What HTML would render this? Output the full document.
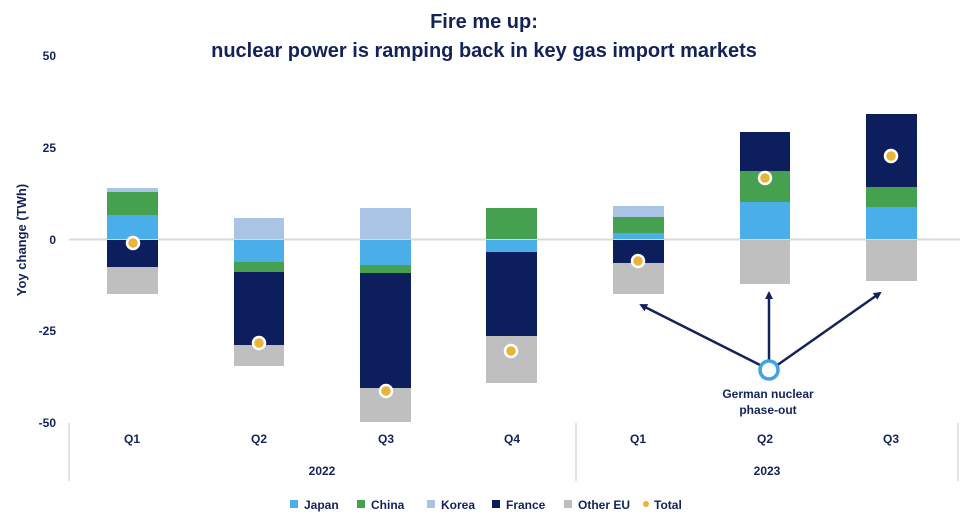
<!DOCTYPE html>
<html><head><meta charset="utf-8"><style>
html,body{margin:0;padding:0;background:#fff;}
svg{display:block;font-family:"Liberation Sans",sans-serif;}
</style></head><body>
<svg width="960" height="515" viewBox="0 0 960 515" xmlns="http://www.w3.org/2000/svg">
<defs>
<marker id="ah" markerWidth="8" markerHeight="8" refX="6" refY="4" orient="auto" markerUnits="userSpaceOnUse">
<path d="M0,0 L8,4 L0,8 Z" fill="#13235a"/></marker>
</defs>
<g fill="#13235a" font-weight="bold" text-anchor="middle">
<text x="484" y="28" font-size="20">Fire me up:</text>
<text x="484" y="57" font-size="20">nuclear power is ramping back in key gas import markets</text>
</g>
<g fill="#13235a" font-weight="bold" font-size="12" text-anchor="end">
<text x="56" y="60">50</text>
<text x="56" y="152">25</text>
<text x="56" y="244">0</text>
<text x="56" y="335">-25</text>
<text x="56" y="427">-50</text>
</g>
<text transform="translate(26,240) rotate(-90)" text-anchor="middle" fill="#13235a" font-weight="bold" font-size="13">Yoy change (TWh)</text>
<line x1="69" y1="239.5" x2="960" y2="239.5" stroke="#d9d9d9" stroke-width="2"/>
<rect x="107" y="188" width="51" height="4" fill="#a9c4e4"/>
<rect x="107" y="192" width="51" height="23" fill="#45a04f"/>
<rect x="107" y="215" width="51" height="24" fill="#4aaee8"/>
<rect x="107" y="240" width="51" height="27" fill="#0c1f5c"/>
<rect x="107" y="267" width="51" height="27" fill="#bfbfbf"/>
<rect x="234" y="218" width="50" height="21" fill="#a9c4e4"/>
<rect x="234" y="240" width="50" height="22" fill="#4aaee8"/>
<rect x="234" y="262" width="50" height="10" fill="#45a04f"/>
<rect x="234" y="272" width="50" height="73" fill="#0c1f5c"/>
<rect x="234" y="345" width="50" height="21" fill="#bfbfbf"/>
<rect x="360" y="208" width="51" height="31" fill="#a9c4e4"/>
<rect x="360" y="240" width="51" height="25" fill="#4aaee8"/>
<rect x="360" y="265" width="51" height="8" fill="#45a04f"/>
<rect x="360" y="273" width="51" height="115" fill="#0c1f5c"/>
<rect x="360" y="388" width="51" height="34" fill="#bfbfbf"/>
<rect x="486" y="208" width="51" height="31" fill="#45a04f"/>
<rect x="486" y="240" width="51" height="12" fill="#4aaee8"/>
<rect x="486" y="252" width="51" height="84" fill="#0c1f5c"/>
<rect x="486" y="336" width="51" height="47" fill="#bfbfbf"/>
<rect x="613" y="206" width="51" height="11" fill="#a9c4e4"/>
<rect x="613" y="217" width="51" height="16" fill="#45a04f"/>
<rect x="613" y="233" width="51" height="6" fill="#4aaee8"/>
<rect x="613" y="240" width="51" height="23" fill="#0c1f5c"/>
<rect x="613" y="263" width="51" height="31" fill="#bfbfbf"/>
<rect x="740" y="132" width="50" height="39" fill="#0c1f5c"/>
<rect x="740" y="171" width="50" height="31" fill="#45a04f"/>
<rect x="740" y="202" width="50" height="37" fill="#4aaee8"/>
<rect x="740" y="240" width="50" height="44" fill="#bfbfbf"/>
<rect x="866" y="114" width="51" height="73" fill="#0c1f5c"/>
<rect x="866" y="187" width="51" height="20" fill="#45a04f"/>
<rect x="866" y="207" width="51" height="32" fill="#4aaee8"/>
<rect x="866" y="240" width="51" height="41" fill="#bfbfbf"/>
<g fill="#e8b43a" stroke="#fff" stroke-width="2.5">
<circle cx="133" cy="243" r="6"/>
<circle cx="259" cy="343" r="6"/>
<circle cx="386" cy="391" r="6"/>
<circle cx="511" cy="351" r="6"/>
<circle cx="638" cy="261" r="6"/>
<circle cx="765" cy="178" r="6"/>
<circle cx="891" cy="156" r="6"/>
</g>
<g stroke="#13235a" stroke-width="2.5" marker-end="url(#ah)">
<line x1="762" y1="366" x2="641" y2="305"/>
<line x1="769" y1="360" x2="769" y2="293"/>
<line x1="776" y1="366" x2="880" y2="293"/>
</g>
<circle cx="769" cy="370" r="9" fill="#fff" stroke="#3ea2e4" stroke-width="3.5"/>
<g fill="#13235a" font-weight="bold" font-size="12" text-anchor="middle">
<text x="768" y="398">German nuclear</text>
<text x="768" y="414">phase-out</text>
</g>
<g stroke="#d9d9d9" stroke-width="1.5">
<line x1="69" y1="423" x2="69" y2="481"/>
<line x1="576" y1="423" x2="576" y2="481"/>
<line x1="958" y1="423" x2="958" y2="481"/>
</g>
<g fill="#13235a" font-weight="bold" font-size="12" text-anchor="middle">
<text x="132" y="443">Q1</text>
<text x="259" y="443">Q2</text>
<text x="386" y="443">Q3</text>
<text x="512" y="443">Q4</text>
<text x="638" y="443">Q1</text>
<text x="765" y="443">Q2</text>
<text x="891" y="443">Q3</text>
<text x="322" y="475">2022</text>
<text x="767" y="475">2023</text>
</g>
<g font-size="12" font-weight="bold" fill="#13235a">
<rect x="290" y="500" width="8" height="8" fill="#4aaee8"/><text x="304" y="509">Japan</text>
<rect x="357" y="500" width="8" height="8" fill="#45a04f"/><text x="371" y="509">China</text>
<rect x="427" y="500" width="8" height="8" fill="#a9c4e4"/><text x="441" y="509">Korea</text>
<rect x="492" y="500" width="8" height="8" fill="#0c1f5c"/><text x="506" y="509">France</text>
<rect x="564" y="500" width="8" height="8" fill="#bfbfbf"/><text x="578" y="509">Other EU</text>
<circle cx="646" cy="504" r="3" fill="#e8b43a"/><text x="654" y="509">Total</text>
</g>
</svg>
</body></html>
